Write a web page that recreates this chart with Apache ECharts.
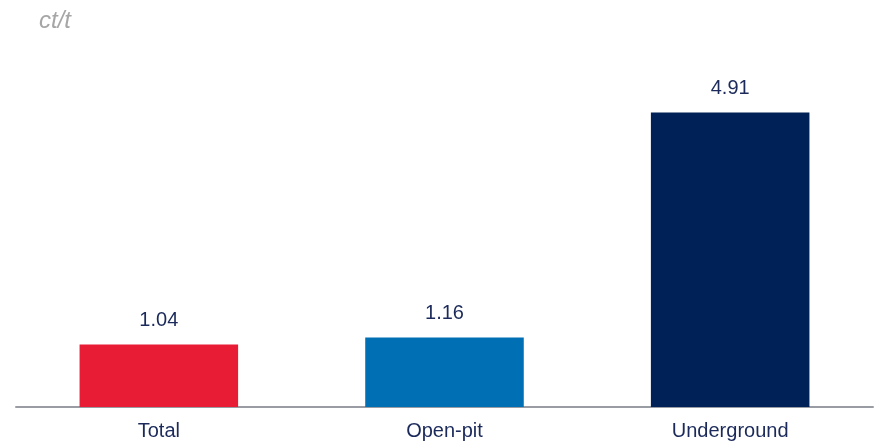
<!DOCTYPE html>
<html lang="en">
<head>
    <meta charset="UTF-8">
    <title>Grade by mine type</title>
    <style>
        body { margin: 0; padding: 0; background: #ffffff; }
        #chart { width: 877px; height: 443px; }
    </style>
    <script src="https://cdn.jsdelivr.net/npm/echarts@6/dist/echarts.min.js"></script>
</head>
<body>
    <div id="chart"></div>
    <script>
        const categories = ['Total', 'Open-pit', 'Underground'];
        const grades = [1.04, 1.16, 4.91];
        const barColors = ['#E91C36', '#006FB4', '#002157'];

        const chart = echarts.init(document.getElementById('chart'));

        const option = {
            animation: false,
            title: {
                text: 'ct/t',
                left: 34,
                top: 4,
                textStyle: {
                    fontFamily: 'Liberation Sans, Arial, sans-serif',
                    fontStyle: 'italic',
                    fontWeight: 'normal',
                    fontSize: 24,
                    color: '#a6a6a6'
                }
            },
            grid: { left: 16, right: 4, top: 47, bottom: 36 },
            xAxis: {
                type: 'category',
                data: categories,
                axisTick: { show: false },
                axisLine: { lineStyle: { color: '#9a9ca3', width: 2 } },
                axisLabel: {
                    color: '#1b2a5a',
                    fontSize: 20,
                    margin: 14,
                    fontFamily: 'Liberation Sans, Arial, sans-serif'
                }
            },
            yAxis: {
                type: 'value',
                min: 0,
                max: 6,
                show: false,
                splitLine: { show: false }
            },
            series: [{
                type: 'bar',
                barWidth: '55.5%',
                data: grades.map((v, i) => ({ value: v, itemStyle: { color: barColors[i] } })),
                label: {
                    show: true,
                    position: 'top',
                    distance: 14,
                    color: '#1b2a5a',
                    fontSize: 20,
                    fontFamily: 'Liberation Sans, Arial, sans-serif',
                    formatter: p => p.value.toFixed(2)
                }
            }]
        };

        chart.setOption(option);
    </script>
</body>
</html>
